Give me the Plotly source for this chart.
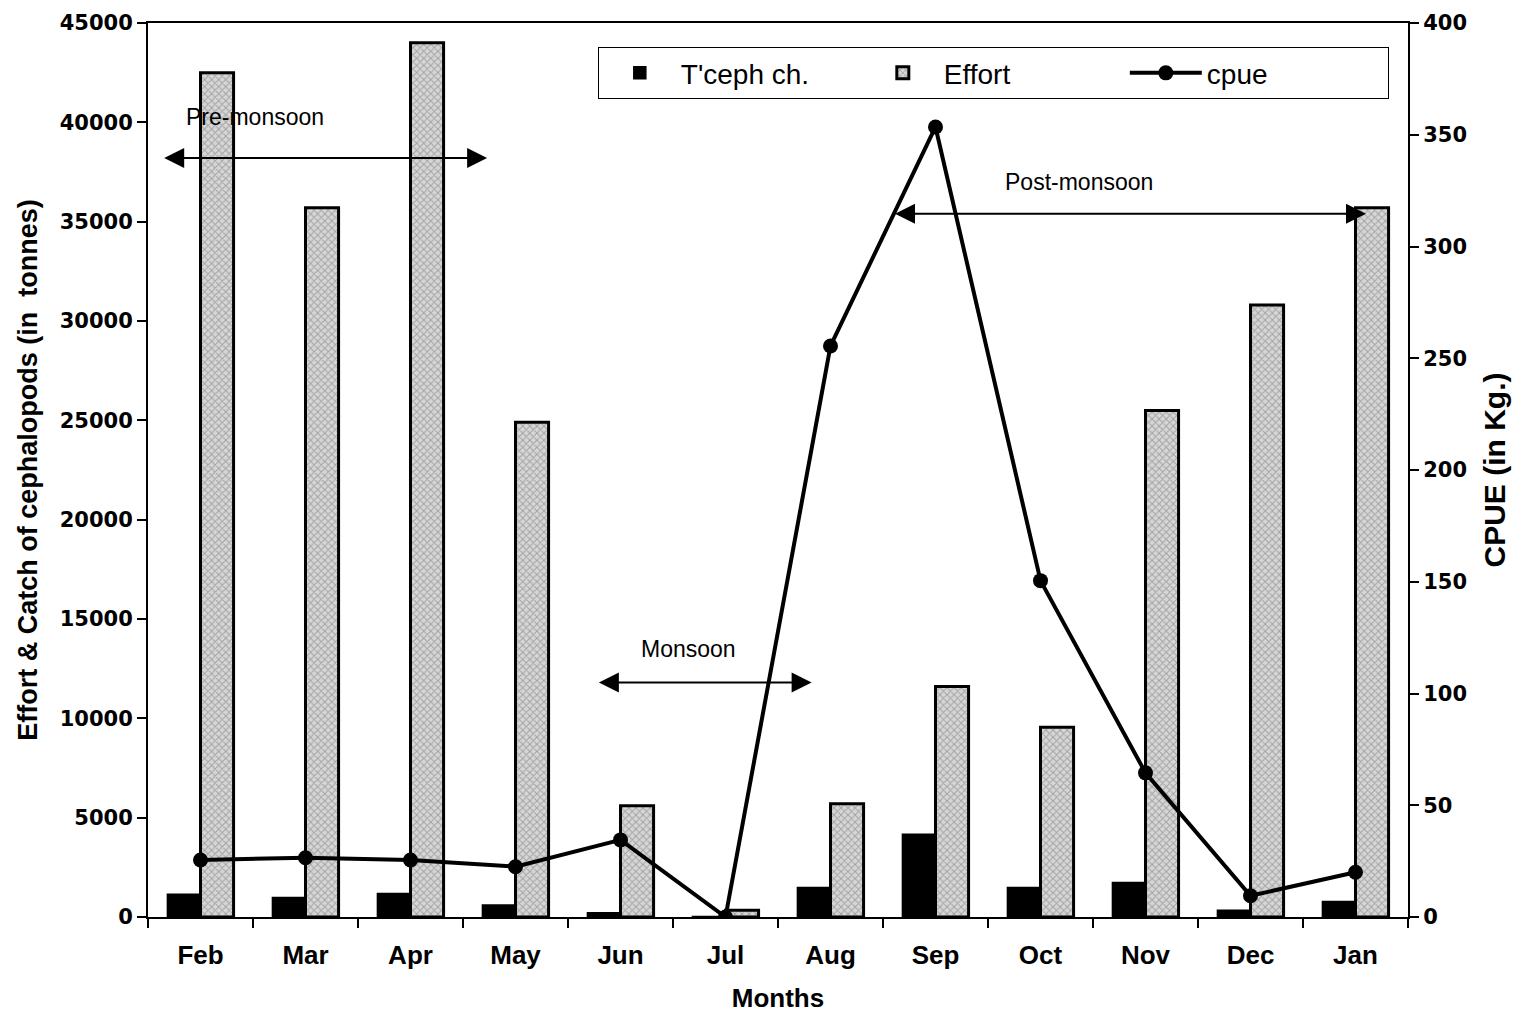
import plotly.graph_objects as go

# Monthly data
months = ["Feb", "Mar", "Apr", "May", "Jun", "Jul", "Aug", "Sep", "Oct", "Nov", "Dec", "Jan"]
catch_tonnes = [1150, 980, 1180, 610, 220, 30, 1480, 4170, 1480, 1740, 340, 780]
effort = [42500, 35700, 44000, 24900, 5600, 340, 5700, 11600, 9550, 25500, 30800, 35700]
cpue = [25.5, 26.5, 25.5, 22.5, 34.5, 0, 255.5, 353.5, 150.5, 64.5, 9.5, 20]

left_ticks = list(range(0, 45001, 5000))
right_ticks = list(range(0, 401, 50))

SANS = "Liberation Sans, Arial, sans-serif"
WIDE = "DejaVu Sans, Verdana, sans-serif"

fig = go.Figure()

fig.add_trace(go.Bar(
    x=months, y=catch_tonnes, name="T'ceph ch.",
    marker=dict(color="black", line=dict(color="black", width=1.5)),
))
fig.add_trace(go.Bar(
    x=months, y=effort, name="Effort",
    marker=dict(
        color="#cfcfcf",
        line=dict(color="black", width=3),
        pattern=dict(shape="x", fgcolor="#6e6e6e", bgcolor="#d6d6d6", size=5, solidity=0.35),
    ),
))
fig.add_trace(go.Scatter(
    x=months, y=cpue, name="cpue", yaxis="y2",
    mode="lines+markers",
    line=dict(color="black", width=4),
    marker=dict(color="black", size=15, symbol="circle"),
))

# Season arrows (double headed) and labels
seasons = [
    dict(label="Pre-monsoon", x0=-0.36, x1=2.73, y=38200, tx=0.52, ty=40250),
    dict(label="Monsoon", x0=3.78, x1=5.82, y=11800, tx=4.65, ty=13500),
    dict(label="Post-monsoon", x0=6.6, x1=11.1, y=35400, tx=8.37, ty=37000),
]
annotations = []
for s in seasons:
    annotations.append(dict(
        x=s["x1"], y=s["y"], ax=s["x0"], ay=s["y"],
        xref="x", yref="y", axref="x", ayref="y",
        text="", showarrow=True, arrowhead=2, arrowside="end+start",
        arrowsize=2, arrowwidth=2, arrowcolor="black",
    ))
    annotations.append(dict(
        x=s["tx"], y=s["ty"], xref="x", yref="y", text=s["label"],
        showarrow=False, font=dict(family=SANS, size=23, color="black"),
    ))

fig.update_layout(
    width=1519, height=1017,
    margin=dict(l=148, r=111, t=23, b=100, autoexpand=False),
    paper_bgcolor="white", plot_bgcolor="white",
    barmode="group", bargap=0.37, bargroupgap=0,
    font=dict(family=SANS, size=20, color="black"),
    showlegend=True,
    legend=dict(
        orientation="h", x=0.357, y=0.973, xanchor="left", yanchor="top",
        bordercolor="black", borderwidth=1, bgcolor="white",
        font=dict(family=SANS, size=28, color="black"),
        entrywidth=176, itemwidth=72,
    ),
    xaxis=dict(
        type="category", categoryorder="array", categoryarray=months,
        range=[-0.5, 11.5],
        showline=True, linecolor="black", linewidth=2, mirror=True,
        ticks="outside", ticklen=9, tickwidth=1.5, tickcolor="black",
        tickson="boundaries", ticklabelstandoff=14,
        tickfont=dict(family=SANS, size=26, color="black", weight="bold"),
        title=dict(text="<b>Months</b>", font=dict(family=SANS, size=26), standoff=20),
        showgrid=False,
    ),
    yaxis=dict(
        range=[0, 45000], tickvals=left_ticks, tickformat="d",
        showline=True, linecolor="black", linewidth=2,
        ticks="outside", ticklen=9, tickwidth=1.5, tickcolor="black",
        tickfont=dict(family=WIDE, size=21, color="black", weight="bold"),
        title=dict(text="<b>Effort & Catch of cephalopods (in  tonnes)</b>",
                   font=dict(family=SANS, size=27), standoff=14),
        showgrid=False, zeroline=False,
    ),
    yaxis2=dict(
        range=[0, 400], tickvals=right_ticks, overlaying="y", side="right",
        showline=True, linecolor="black", linewidth=2,
        ticks="outside", ticklen=9, tickwidth=1.5, tickcolor="black",
        tickfont=dict(family=WIDE, size=21, color="black", weight="bold"),
        title=dict(text="<b>CPUE (in Kg.)</b>", font=dict(family=SANS, size=30), standoff=18),
        showgrid=False, zeroline=False,
    ),
    annotations=annotations,
)

fig.write_html("out.html")
